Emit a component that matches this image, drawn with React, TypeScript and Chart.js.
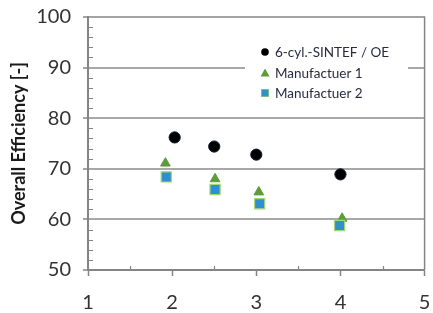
import React, { useEffect, useRef } from "react";
import { Chart, registerables } from "chart.js";

Chart.register(...registerables);

const seriesLabels = ["6-cyl.-SINTEF / OE", "Manufactuer 1", "Manufactuer 2"];
const sintefX = [2.03, 2.5, 3.0, 4.0];
const sintefY = [76.2, 74.4, 72.8, 68.9];
const m1X = [1.92, 2.51, 3.03, 4.02];
const m1Y = [71.1, 68.0, 65.4, 60.2];
const m2X = [1.93, 2.51, 3.04, 3.99];
const m2Y = [68.4, 65.9, 63.1, 58.8];
const xMin = 1, xMax = 5, xStep = 1, xMinorStep = 0.5;
const yMin = 50, yMax = 100, yStep = 10, yMinorStep = 2;
const yTitle = "Overall Efficiency [-]";

const FONT = "Lato, 'Liberation Sans', sans-serif";
const AXIS = "#858585";
const GRID = "#a8a8a8";
const GREEN = "#5e9c3a";
const BLUE = "#2f8fd0";

const pts = (xs: number[], ys: number[]) => xs.map((x, i) => ({ x, y: ys[i] }));

const framePlugin = {
  id: "frame",
  beforeDatasetsDraw(chart: any) {
    const { ctx, chartArea: a, scales } = chart;
    const xs = scales.x, ys = scales.y;
    ctx.save();
    ctx.strokeStyle = AXIS;
    ctx.lineWidth = 1.5;
    ctx.beginPath();
    ctx.moveTo(a.left, a.top);
    ctx.lineTo(a.right, a.top);
    ctx.lineTo(a.right, a.bottom);
    ctx.stroke();
    ctx.lineWidth = 1.2;
    ctx.beginPath();
    for (let v = yMin; v <= yMax + 1e-9; v += yMinorStep) {
      if (Math.abs(v % yStep) < 1e-9) continue;
      const py = Math.round(ys.getPixelForValue(v)) + 0.5;
      ctx.moveTo(a.left, py);
      ctx.lineTo(a.left + 5, py);
    }
    for (let v = xMin; v <= xMax + 1e-9; v += xMinorStep) {
      if (Math.abs(v % xStep) < 1e-9) continue;
      const px = Math.round(xs.getPixelForValue(v)) + 0.5;
      ctx.moveTo(px, a.bottom);
      ctx.lineTo(px, a.bottom - 4);
    }
    ctx.stroke();
    ctx.restore();
  },
  afterDatasetsDraw(chart: any) {
    const { ctx } = chart;
    ctx.save();
    ctx.fillStyle = "#ffffff";
    ctx.fillRect(245, 38, 163, 66);
    const rows = [52, 73, 93];
    const mx = 265;
    ctx.fillStyle = "#000000";
    ctx.beginPath();
    ctx.arc(mx, rows[0], 3.8, 0, Math.PI * 2);
    ctx.fill();
    ctx.fillStyle = GREEN;
    ctx.beginPath();
    ctx.moveTo(mx, rows[1] - 4.5);
    ctx.lineTo(mx + 4.5, rows[1] + 3.5);
    ctx.lineTo(mx - 4.5, rows[1] + 3.5);
    ctx.closePath();
    ctx.fill();
    ctx.fillStyle = "#9fd06e";
    ctx.fillRect(mx - 4, rows[2] - 4, 8, 8);
    ctx.fillStyle = BLUE;
    ctx.fillRect(mx - 3.3, rows[2] - 3.3, 6.6, 6.6);
    ctx.fillStyle = "#2a2a40";
    ctx.font = `13.5px ${FONT}`;
    ctx.textBaseline = "middle";
    ctx.textAlign = "left";
    seriesLabels.forEach((t, i) => ctx.fillText(t, 275, rows[i] + 0.5));
    ctx.restore();
  },
};

export default function App() {
  const ref = useRef<HTMLCanvasElement | null>(null);
  useEffect(() => {
    if (!ref.current) return;
    const chart = new Chart(ref.current, {
      type: "scatter",
      data: {
        datasets: [
          {
            label: seriesLabels[0],
            data: pts(sintefX, sintefY),
            pointStyle: "circle",
            pointRadius: 5.6,
            backgroundColor: "#000000",
            borderColor: "#0b1a3a",
            borderWidth: 1,
            order: 2,
          },
          {
            label: seriesLabels[1],
            data: pts(m1X, m1Y),
            pointStyle: "triangle",
            pointRadius: 5.6,
            backgroundColor: GREEN,
            borderColor: GREEN,
            borderWidth: 1,
            order: 1,
          },
          {
            label: seriesLabels[2],
            data: pts(m2X, m2Y),
            pointStyle: "rect",
            pointRadius: 7.2,
            backgroundColor: BLUE,
            borderColor: "#a5d678",
            borderWidth: 1.2,
            order: 0,
          },
        ],
      },
      options: {
        animation: false,
        responsive: true,
        maintainAspectRatio: false,
        layout: { padding: { top: 17, right: 7, left: 0, bottom: 0 } },
        plugins: { legend: { display: false }, tooltip: { enabled: false } },
        scales: {
          x: {
            type: "linear",
            min: xMin,
            max: xMax,
            afterFit: (s: any) => {
              s.height = 43;
              s.paddingLeft = 0;
              s.paddingRight = 0;
            },
            ticks: {
              stepSize: xStep,
              color: "#333333",
              font: { family: FONT, size: 20 },
              padding: 15,
            },
            grid: {
              drawOnChartArea: false,
              drawTicks: true,
              tickLength: 6,
              tickColor: AXIS,
              tickWidth: 1.5,
            },
            border: { display: true, color: AXIS, width: 2 },
          },
          y: {
            type: "linear",
            min: yMin,
            max: yMax,
            afterFit: (s: any) => {
              s.width = 88;
              s.paddingTop = 0;
              s.paddingBottom = 0;
            },
            ticks: {
              stepSize: yStep,
              color: "#333333",
              font: { family: FONT, size: 20 },
              padding: 12,
            },
            grid: {
              color: (c: any) =>
                c.tick && c.tick.value > yMin && c.tick.value < yMax ? GRID : "rgba(0,0,0,0)",
              lineWidth: 2,
              drawTicks: true,
              tickLength: 5,
              tickColor: AXIS,
              tickWidth: 1.5,
            },
            border: { display: true, color: AXIS, width: 2 },
            title: {
              display: true,
              text: yTitle,
              color: "#1a1a1a",
              font: { family: FONT, size: 18, weight: "bold" },
              padding: { top: 8, bottom: 0 },
            },
          },
        },
      },
      plugins: [framePlugin],
    });
    return () => chart.destroy();
  }, []);
  return (
    <div style={{ position: "absolute", left: 0, top: 0, width: 433, height: 313, background: "#fff" }}>
      <canvas ref={ref} />
    </div>
  );
}
